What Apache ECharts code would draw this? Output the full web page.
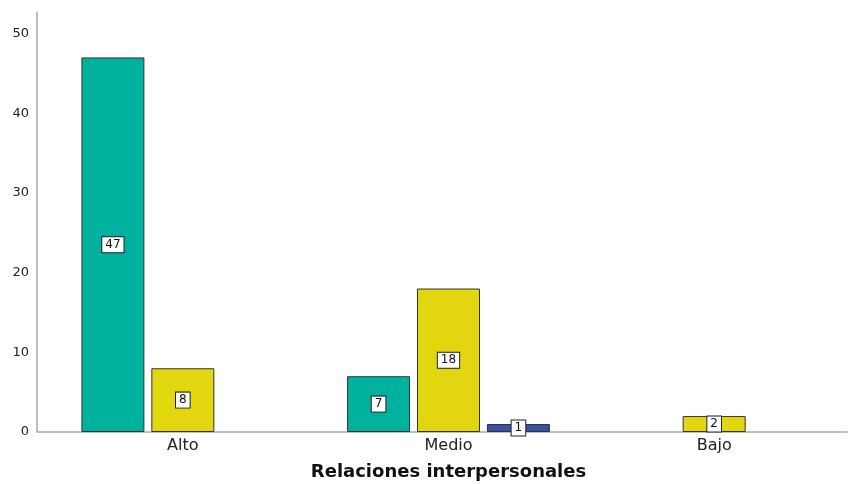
<!DOCTYPE html>
<html>
<head>
<meta charset="utf-8">
<script src="https://cdn.jsdelivr.net/npm/echarts@6/dist/echarts.min.js"></script>
<style>
  html, body { margin: 0; padding: 0; background: #fff; }
  #chart { width: 853px; height: 484px; }
</style>
</head>
<body>
<div id="chart"></div>
<script>
// categorias del eje X
var categorias = ['Alto', 'Medio', 'Bajo'];
// valores por serie ('-' = sin barra)
var serieVerde = [47, 7, '-'];
var serieAmarilla = [8, 18, 2];
var serieAzul = ['-', 1, '-'];
var ticksY = [0, 10, 20, 30, 40, 50];

var etiqueta = {
    show: true,
    position: 'inside',
    color: '#111',
    fontFamily: 'DejaVu Sans',
    fontSize: 12,
    lineHeight: 13,
    backgroundColor: '#fff',
    borderColor: '#222',
    borderWidth: 1,
    padding: [1, 3, 1, 3]
};

function nuevaSerie(nombre, datos, color) {
    return {
        name: nombre,
        type: 'bar',
        data: datos,
        barWidth: 63,
        barGap: '11%',
        itemStyle: { color: color, borderColor: '#333', borderWidth: 1 },
        label: etiqueta,
        emphasis: { disabled: true }
    };
}

var chart = echarts.init(document.getElementById('chart'));
chart.setOption({
    animation: false,
    backgroundColor: '#fff',
    grid: { left: 50, right: 6, top: 12, bottom: 52, outerBoundsMode: 'none' },
    xAxis: {
        type: 'category',
        data: categorias,
        axisLine: { lineStyle: { color: '#aaa', width: 1.5 } },
        axisTick: { show: false },
        axisLabel: { color: '#222', fontFamily: 'DejaVu Sans', fontSize: 16, margin: 6 },
        name: 'Relaciones interpersonales',
        nameLocation: 'middle',
        nameGap: 31,
        nameTextStyle: { color: '#111', fontFamily: 'DejaVu Sans', fontSize: 18, fontWeight: 'bold' }
    },
    yAxis: {
        type: 'value',
        min: ticksY[0],
        max: 52.7,
        interval: 10,
        offset: 13,
        axisLine: { show: true, lineStyle: { color: '#aaa', width: 1.5 } },
        axisTick: { show: false },
        splitLine: { show: false },
        axisLabel: {
            color: '#222', fontFamily: 'DejaVu Sans', fontSize: 13, margin: 8,
            showMaxLabel: false,
            formatter: function (v) { return ticksY.indexOf(v) >= 0 ? String(v) : ''; }
        }
    },
    graphic: [{
        type: 'line',
        shape: { x1: 37, y1: 432, x2: 50, y2: 432 },
        style: { stroke: '#aaa', lineWidth: 1.5 }
    }],
    series: [
        nuevaSerie('verde', serieVerde, '#00B19D'),
        nuevaSerie('amarilla', serieAmarilla, '#E2D60E'),
        nuevaSerie('azul', serieAzul, '#3853A4')
    ]
});
</script>
</body>
</html>
